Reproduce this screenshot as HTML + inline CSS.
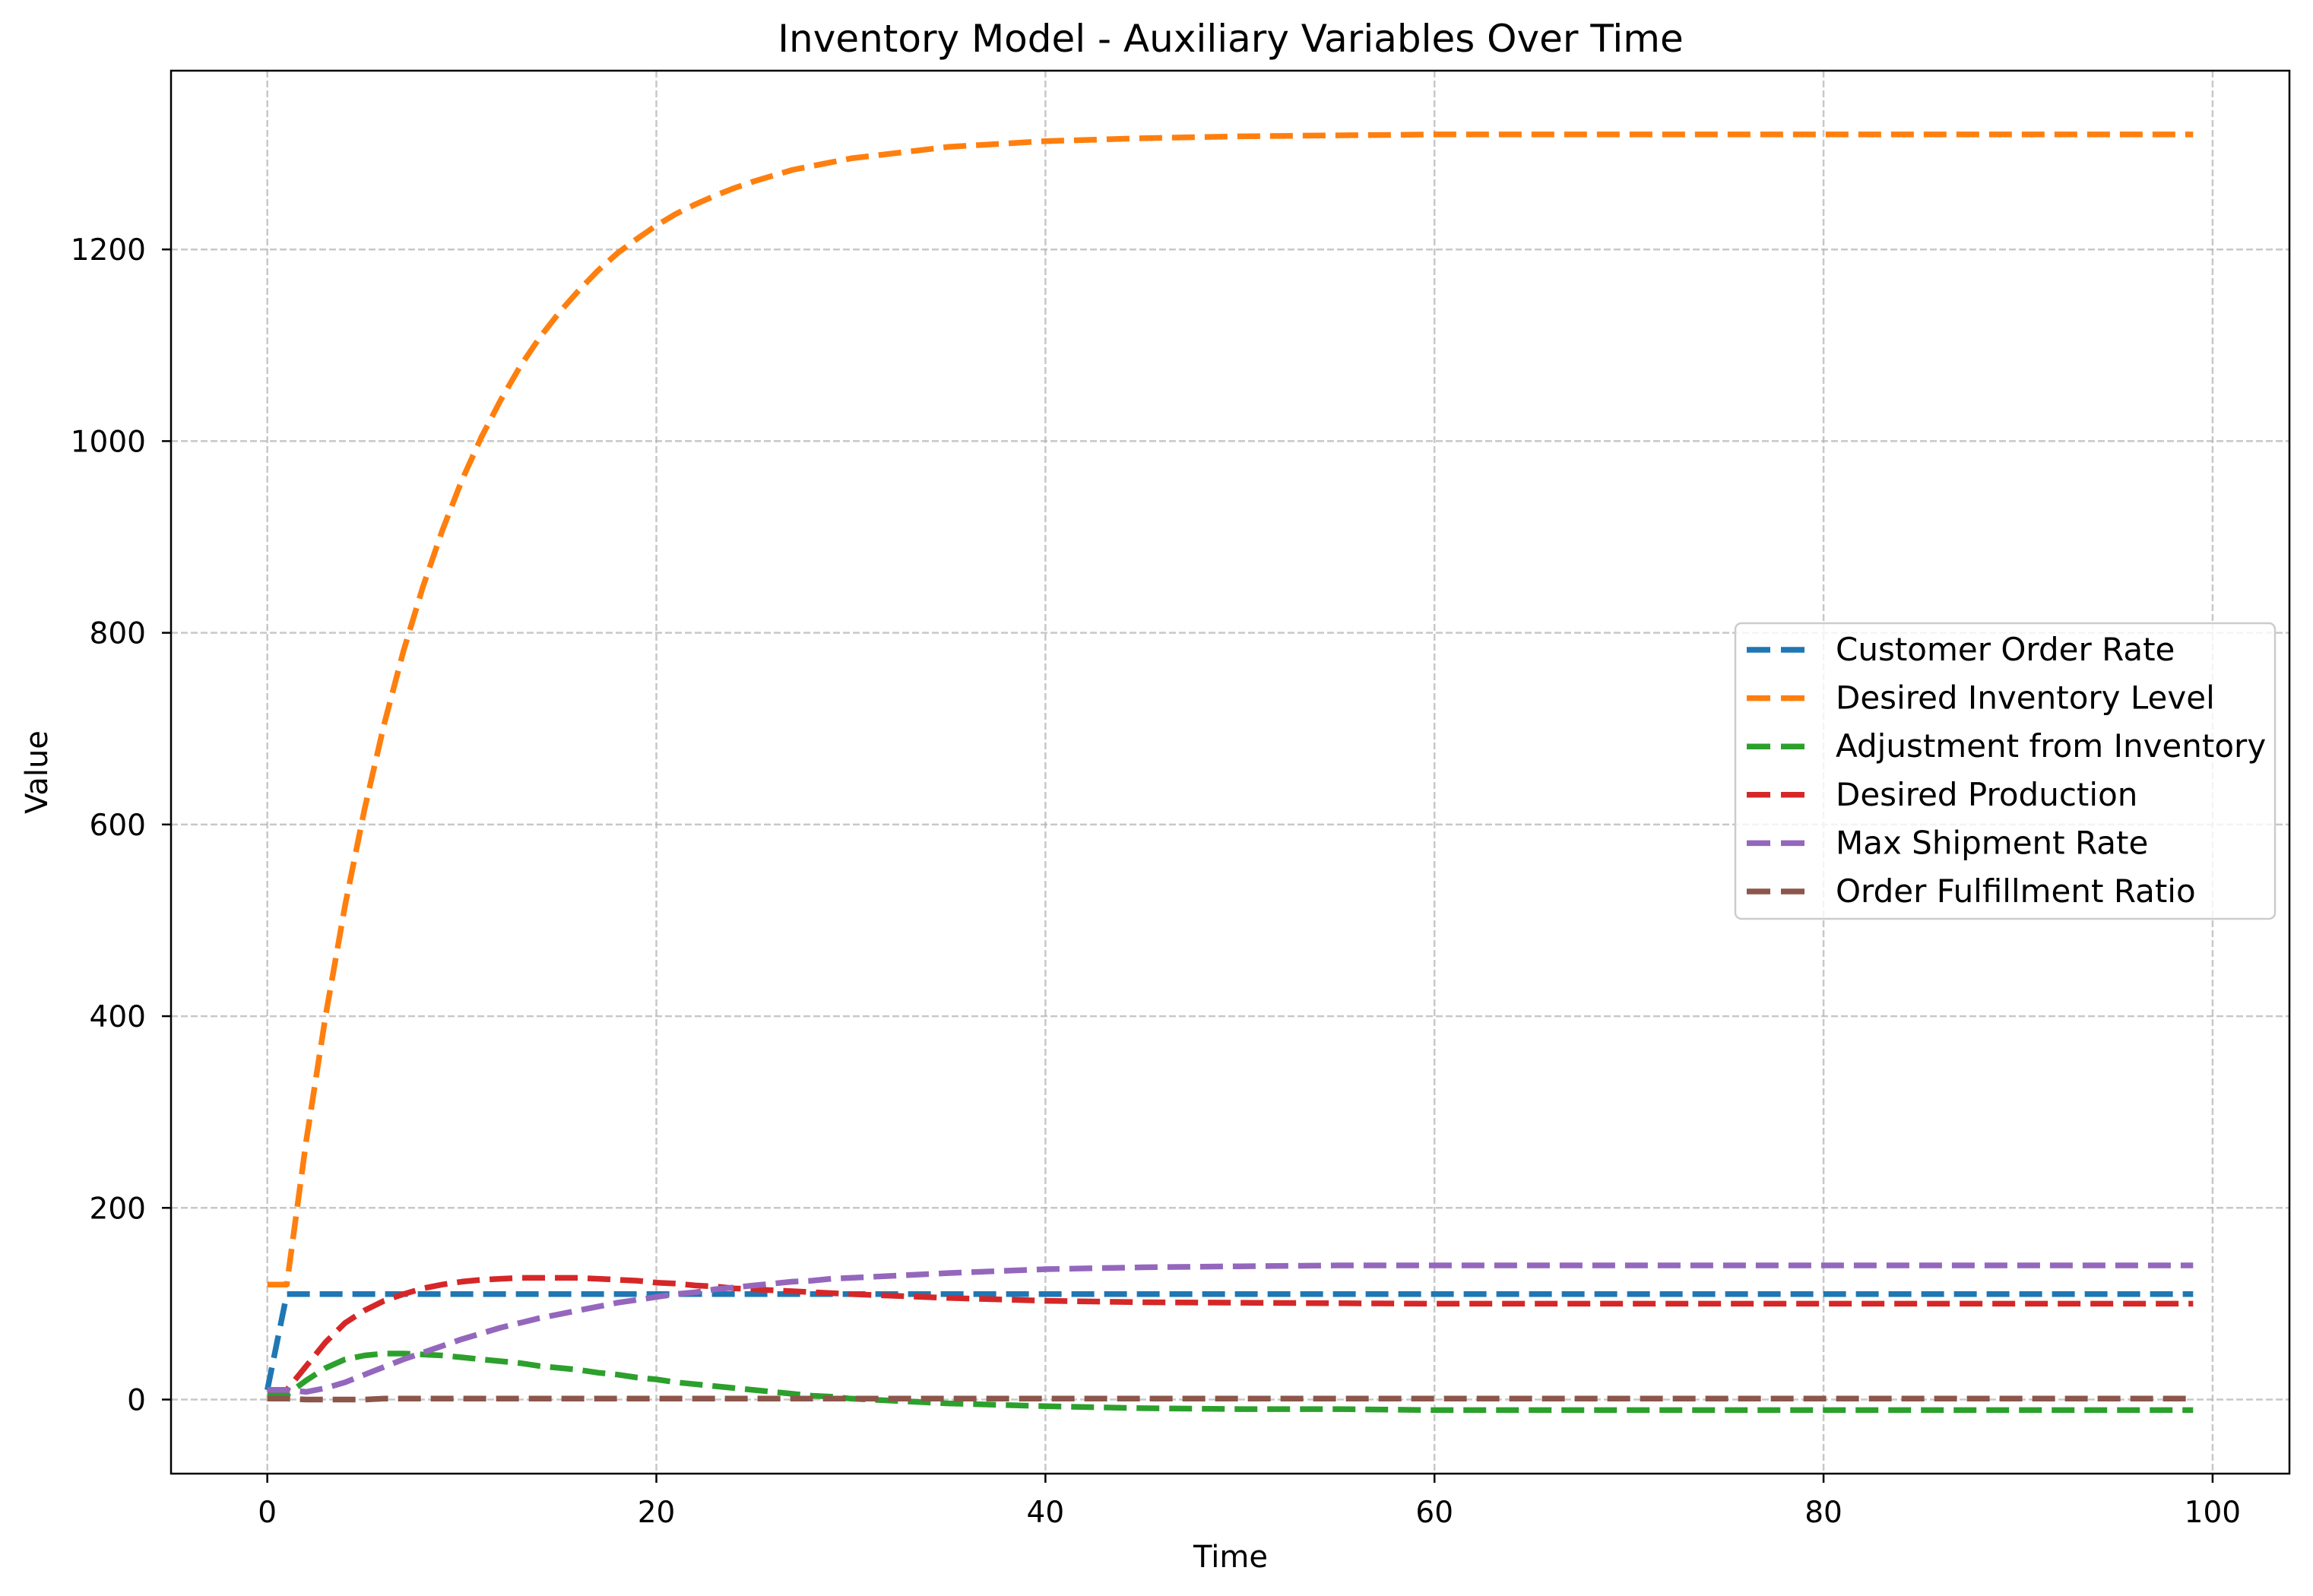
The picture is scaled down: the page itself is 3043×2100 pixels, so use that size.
<!DOCTYPE html>
<html><head><meta charset="utf-8">
<style>
html,body{margin:0;padding:0;background:#fff;}
svg{display:block;font-family:"DejaVu Sans","Liberation Sans",sans-serif;}
</style></head>
<body>
<svg id="chart" width="3043" height="2100" viewBox="0 0 3043 2100" xmlns="http://www.w3.org/2000/svg">
<rect width="3043" height="2100" fill="#fff"/>
<text x="1619" y="68" font-size="50" text-anchor="middle">Inventory Model - Auxiliary Variables Over Time</text>
<g id="grid"></g>
<g id="series"></g>
<rect x="225" y="93" width="2787" height="1846" fill="none" stroke="#000" stroke-width="2.5"/>
<g id="ticks"></g>
<text x="1619" y="2062" font-size="40" text-anchor="middle">Time</text>
<text x="62" y="1016" font-size="40" text-anchor="middle" transform="rotate(-90 62 1016)">Value</text>
<g id="legend"></g>
</svg>
<script>
const times = [0,1,2,3,4,5,6,7,8,9,10,11,12,13,14,15,16,17,18,19,20,21,22,23,24,25,26,27,28,29,30,35,40,45,50,55,60,65,70,75,80,85,90,95,99];
const customerOrderRate = [10,110,110,110,110,110,110,110,110,110,110,110,110,110,110,110,110,110,110,110,110,110,110,110,110,110,110,110,110,110,110,110,110,110,110,110,110,110,110,110,110,110,110,110,110];
const desiredInventory = [120,120,270,401,516,616,704,781,848,907,959,1004,1043,1078,1108,1134,1157,1178,1196,1211,1225,1237,1247,1256,1264,1271,1277,1283,1287,1291,1295,1307,1313,1316,1318,1319,1320,1320,1320,1320,1320,1320,1320,1320,1320];
const adjustment = [5,5,20,33,42,46,48,48,47,46,44,42,40,38,35,33,31,28,26,23,21,18,16,14,12,10,8,6,4,3,1,-4,-7,-9,-10,-10,-11,-11,-11,-11,-11,-11,-11,-11,-11];
const desiredProduction = [10,10,35,60,80,93,103,110,116,120,123,125,126,127,127,127,127,126,125,124,122,121,119,118,116,115,114,113,112,111,110,106,103,101.5,101,100.5,100,100,100,100,100,100,100,100,100];
const maxShipment = [10,10,8,12,18,26,34,42,49,56,63,69,75,80,85,89,93,97,101,104,107,110,112,115,117,119,121,123,124,126,127,132,136,138,139,140,140,140,140,140,140,140,140,140,140];
const fulfillment = [1,1,0,0,0,0,1,1,1,1,1,1,1,1,1,1,1,1,1,1,1,1,1,1,1,1,1,1,1,1,1,1,1,1,1,1,1,1,1,1,1,1,1,1,1];
const xTicks = [0,20,40,60,80,100];
const yTicks = [0,200,400,600,800,1000,1200];
const seriesNames = ["Customer Order Rate","Desired Inventory Level","Adjustment from Inventory","Desired Production","Max Shipment Rate","Order Fulfillment Ratio"];
const seriesColors = ["#1f77b4","#ff7f0e","#2ca02c","#d62728","#9467bd","#8c564b"];
const seriesData = [customerOrderRate,desiredInventory,adjustment,desiredProduction,maxShipment,fulfillment];

const NS="http://www.w3.org/2000/svg";
const L=225,R=3012,T=93,B=1939;
const xMin=-4.95,xMax=103.95,yMin=-77.3,yMax=1386.5;
function xs(v){return L+(v-xMin)/(xMax-xMin)*(R-L);}
function ys(v){return B-(v-yMin)/(yMax-yMin)*(B-T);}
function mk(tag,attrs,parent){const e=document.createElementNS(NS,tag);for(const k in attrs)e.setAttribute(k,attrs[k]);parent.appendChild(e);return e;}

const grid=document.getElementById('grid');
const ticks=document.getElementById('ticks');
xTicks.forEach(t=>{
  const x=xs(t);
  const g=mk('line',{x1:x,x2:x,y1:T,y2:B,stroke:'#b0b0b0','stroke-opacity':0.7,'stroke-width':2.5,'stroke-dasharray':'9 4'},grid);
  
  
  const tk=mk('line',{x1:x,x2:x,y1:B,y2:B+12,stroke:'#000','stroke-width':2.5},ticks);
  
  
  const lb=mk('text',{x:x,y:B+64,'font-size':39,'text-anchor':'middle'},ticks);
  lb.textContent=t;
  
  
});
yTicks.forEach(t=>{
  const y=ys(t);
  const g=mk('line',{x1:L,x2:R,y1:y,y2:y,stroke:'#b0b0b0','stroke-opacity':0.7,'stroke-width':2.5,'stroke-dasharray':'9 4'},grid);
  
  
  const tk=mk('line',{x1:L-12,x2:L,y1:y,y2:y,stroke:'#000','stroke-width':2.5},ticks);
  
  
  const lb=mk('text',{x:L-33,y:y+14,'font-size':39,'text-anchor':'end'},ticks);
  lb.textContent=t;
  
  
});

const sg=document.getElementById('series');
seriesData.forEach((arr,i)=>{
  const pts=times.map((t,j)=>xs(t).toFixed(1)+','+ys(arr[j]).toFixed(1)).join(' ');
  const p=mk('polyline',{points:pts,fill:'none',stroke:seriesColors[i],'stroke-width':7.5,'stroke-dasharray':'30 13','stroke-linejoin':'round'},sg);
  
  
});

const lg=document.getElementById('legend');
const box=mk('rect',{x:2283,y:820,width:710,height:389,rx:8,fill:'#fff','fill-opacity':0.8,stroke:'#cccccc','stroke-width':2.5},lg);


seriesNames.forEach((n,i)=>{
  const y=855+i*63.6;
  const ln=mk('line',{x1:2298,x2:2374,y1:y,y2:y,stroke:seriesColors[i],'stroke-width':7.5,'stroke-dasharray':'31 14'},lg);
  
  
  const tx=mk('text',{x:2415,y:y+14,'font-size':42},lg);
  tx.textContent=n;
  
  
});
</script>
</body></html>
